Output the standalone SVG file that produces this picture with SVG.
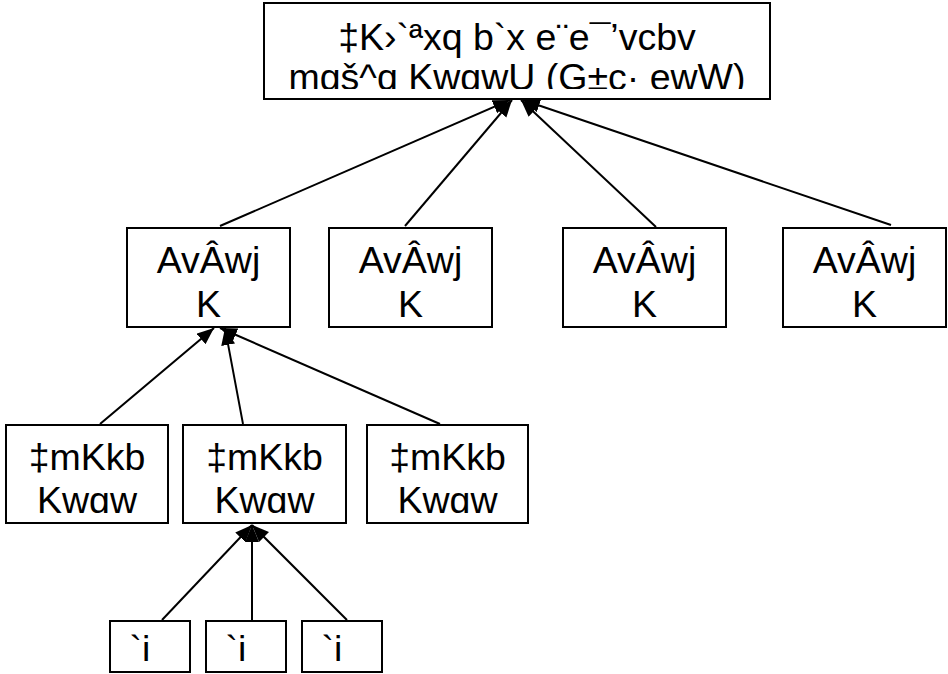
<svg xmlns="http://www.w3.org/2000/svg" width="948" height="674" viewBox="0 0 948 674">
<style>
.box{fill:#fff;stroke:#000;stroke-width:2}
.t{font-family:"Liberation Sans",Arial,sans-serif;font-size:37.5px;fill:#000;text-anchor:middle}
.c{stroke:#000;stroke-width:2;fill:none;marker-end:url(#ah)}
</style>
<defs>
<marker id="ah" markerUnits="userSpaceOnUse" markerWidth="19" markerHeight="15" refX="17" refY="7" orient="auto">
<path d="M0,0 L17,7 L0,14 z" fill="#000"/>
</marker>
<clipPath id="clipTop"><rect x="264" y="3" width="506" height="86"/></clipPath>
<clipPath id="clipRow3"><rect x="0" y="425" width="948" height="88"/></clipPath>
<clipPath id="clipLeaf"><rect x="0" y="621" width="948" height="40"/></clipPath>
</defs>
<rect width="948" height="674" fill="#fff"/>
<g id="connectors">
<line class="c" x1="220" y1="226" x2="510" y2="100"/>
<line class="c" x1="405" y1="226" x2="512" y2="100"/>
<line class="c" x1="656" y1="227" x2="521" y2="100"/>
<line class="c" x1="891" y1="225" x2="523" y2="100"/>
<line class="c" x1="100" y1="424" x2="214" y2="328"/>
<line class="c" x1="243" y1="424" x2="225" y2="328"/>
<line class="c" x1="440" y1="424" x2="220" y2="328"/>
<line class="c" x1="162" y1="620" x2="252" y2="525"/>
<line class="c" x1="252" y1="620" x2="252" y2="525"/>
<line class="c" x1="347" y1="620" x2="252" y2="525"/>
</g>
<g id="top">
<rect class="box" x="264" y="3" width="506" height="96"/>
<g clip-path="url(#clipTop)">
<text class="t" x="517" y="50">‡K›`ªxq b`x e¨e¯’vcbv</text>
<text class="t" x="517" y="90">mgš^q KwgwU (G±c· ewW)</text>
</g>
</g>
<g id="reg1">
<rect class="box" x="127" y="228" width="163" height="99"/>
<text class="t" x="208.5" y="273">AvÂwj</text>
<text class="t" x="208.5" y="317">K</text>
</g>
<g id="reg2">
<rect class="box" x="329" y="228" width="163" height="99"/>
<text class="t" x="410.5" y="273">AvÂwj</text>
<text class="t" x="410.5" y="317">K</text>
</g>
<g id="reg3">
<rect class="box" x="563" y="228" width="163" height="99"/>
<text class="t" x="644.5" y="273">AvÂwj</text>
<text class="t" x="644.5" y="317">K</text>
</g>
<g id="reg4">
<rect class="box" x="783" y="228" width="163" height="99"/>
<text class="t" x="864.5" y="273">AvÂwj</text>
<text class="t" x="864.5" y="317">K</text>
</g>
<g id="sec1">
<rect class="box" x="6" y="425" width="162" height="98"/>
<g clip-path="url(#clipRow3)">
<text class="t" x="87" y="470">‡mKkb</text>
<text class="t" x="87" y="513">Kwgw</text>
</g>
</g>
<g id="sec2">
<rect class="box" x="183" y="425" width="163" height="98"/>
<g clip-path="url(#clipRow3)">
<text class="t" x="264.5" y="470">‡mKkb</text>
<text class="t" x="264.5" y="513">Kwgw</text>
</g>
</g>
<g id="sec3">
<rect class="box" x="367" y="425" width="161" height="98"/>
<g clip-path="url(#clipRow3)">
<text class="t" x="447.5" y="470">‡mKkb</text>
<text class="t" x="447.5" y="513">Kwgw</text>
</g>
</g>
<g id="team1">
<rect class="box" x="110" y="621" width="80" height="51"/>
<text class="t" x="140" y="662" clip-path="url(#clipLeaf)">`j</text>
</g>
<g id="team2">
<rect class="box" x="206" y="621" width="80" height="51"/>
<text class="t" x="236" y="662" clip-path="url(#clipLeaf)">`j</text>
</g>
<g id="team3">
<rect class="box" x="302" y="621" width="80" height="51"/>
<text class="t" x="332" y="662" clip-path="url(#clipLeaf)">`j</text>
</g>
</svg>
